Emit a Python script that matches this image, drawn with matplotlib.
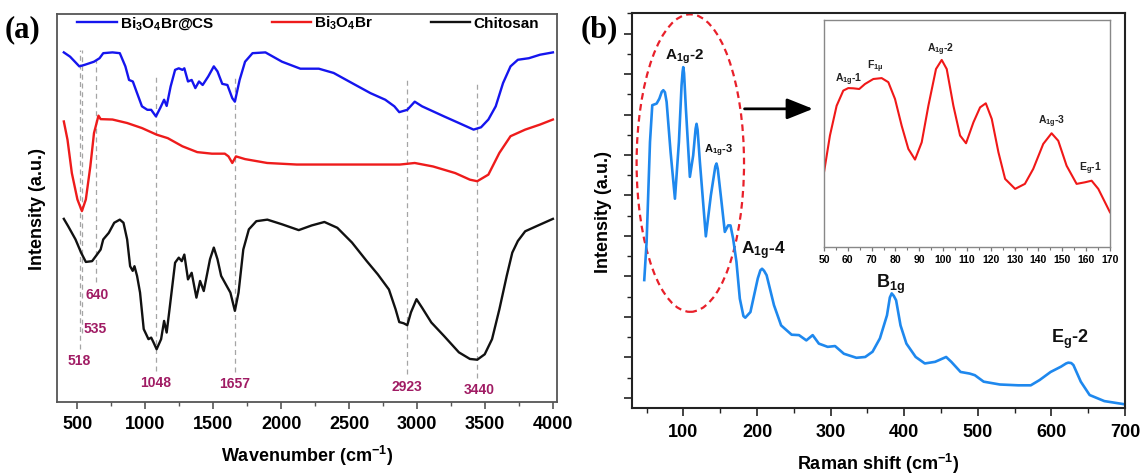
import numpy as np
import matplotlib
matplotlib.use("Agg")
import matplotlib.pyplot as plt
from matplotlib.patches import Ellipse
from matplotlib.ticker import MultipleLocator

plt.rcParams['font.family'] = ['Liberation Sans', 'DejaVu Sans']
plt.rcParams['font.weight'] = 'bold'
plt.rcParams['axes.labelweight'] = 'bold'
plt.rcParams['mathtext.fontset'] = 'custom'
plt.rcParams['mathtext.rm'] = 'Liberation Sans:bold'
plt.rcParams['mathtext.bf'] = 'Liberation Sans:bold'
plt.rcParams['mathtext.it'] = 'Liberation Sans:bold'

# ---------------- (a) FTIR spectra (offset, arbitrary units) ----------------
cs_x = [400, 446, 514, 554, 622, 663, 690, 758, 812, 853, 880, 908, 935, 975, 1015,
        1043, 1078, 1110, 1138, 1157, 1186, 1219, 1246, 1273, 1287, 1314, 1341, 1368,
        1395, 1422, 1463, 1504, 1531, 1566, 1604, 1640, 1659, 1694, 1734, 1789, 1884,
        2006, 2141, 2277, 2386, 2521, 2657, 2766, 2833, 2869, 2928, 2983, 3037, 3118,
        3199, 3308, 3416, 3471, 3525, 3579, 3633, 3688, 3742, 3823, 3905, 4000]
cs_y = [90.1, 89.0, 86.5, 86.9, 87.7, 88.6, 89.9, 90.1, 89.9, 86.5, 83.0, 82.6, 80.0,
        76.2, 75.3, 75.3, 73.6, 75.8, 77.9, 76.3, 81.3, 85.6, 86.0, 85.6, 86.0, 82.6,
        83.0, 80.9, 82.6, 81.7, 83.9, 86.5, 85.2, 82.0, 81.7, 78.3, 77.4, 83.0, 87.7,
        89.9, 90.1, 87.7, 85.9, 85.9, 84.8, 82.2, 79.6, 77.9, 76.2, 74.7, 75.3, 77.4,
        76.2, 74.9, 73.6, 71.9, 70.2, 70.8, 72.8, 76.2, 82.2, 86.5, 88.2, 88.6, 89.5, 90.1]

bob_x = [400, 427, 459, 500, 533, 562, 595, 622, 655, 671, 758, 866, 975, 1083, 1165,
         1273, 1382, 1490, 1585, 1612, 1640, 1667, 1734, 1897, 2114, 2657, 2874, 2983,
         3118, 3281, 3389, 3443, 3525, 3606, 3688, 3796, 3905, 4000]
bob_y = [72.3, 67.6, 59.0, 52.2, 49.2, 52.2, 60.7, 69.3, 73.8, 72.9, 72.8, 71.9, 70.6,
         68.9, 68.0, 65.9, 64.4, 64.0, 64.0, 63.3, 61.6, 63.3, 62.6, 61.6, 61.2, 61.2,
         61.2, 61.6, 60.7, 59.0, 57.3, 56.9, 58.6, 64.2, 68.5, 70.2, 71.5, 72.8]

chi_x = [400, 432, 486, 527, 562, 608, 644, 671, 690, 731, 771, 812, 839, 866, 888, 907,
         920, 939, 961, 988, 1023, 1043, 1061, 1083, 1116, 1138, 1157, 1178, 1219, 1246,
         1268, 1287, 1314, 1341, 1376, 1403, 1430, 1476, 1504, 1531, 1558, 1599, 1626,
         1659, 1686, 1721, 1762, 1817, 1898, 2006, 2129, 2224, 2318, 2413, 2521, 2630,
         2711, 2793, 2842, 2869, 2901, 2928, 2955, 2996, 3037, 3105, 3199, 3308, 3389,
         3443, 3498, 3552, 3606, 3660, 3701, 3742, 3796, 3878, 4000]
chi_y = [47.2, 45.3, 41.9, 38.5, 36.1, 36.3, 38.0, 39.3, 41.9, 43.6, 46.2, 47.0, 46.2,
         41.9, 35.0, 33.8, 35.0, 32.5, 28.2, 18.8, 16.2, 16.6, 15.3, 13.6, 16.2, 20.9,
         17.9, 23.9, 35.9, 37.2, 36.3, 38.0, 31.6, 33.3, 26.9, 31.2, 28.6, 36.8, 39.8,
         36.8, 32.5, 29.9, 28.2, 23.5, 28.2, 39.3, 44.5, 46.6, 47.0, 45.8, 44.3, 45.5,
         46.4, 44.9, 41.1, 36.3, 32.9, 29.0, 23.9, 20.6, 20.3, 19.8, 23.1, 26.5, 24.3,
         20.5, 17.0, 12.8, 11.1, 10.9, 12.3, 16.2, 23.9, 32.5, 38.5, 41.5, 44.0, 45.3, 47.2]

series_names = [r'Bi$_3$O$_4$Br@CS', r'Bi$_3$O$_4$Br', 'Chitosan']

# guide lines and their labels
peak_pos = [518, 535, 640, 1078, 1657, 2923, 3440]
peak_top = [90.7, 90.7, 88.2, 84.3, 84.3, 83.3, 82.2]
peak_bot = [13.6, 17.9, 31.0, 8.0, 7.8, 7.2, 6.3]
peak_text = ['518', '535', '640', '1048', '1657', '2923', '3440']
peak_tx = [514, 545, 646, 1078, 1658, 2928, 3457]
peak_ty = [10.9, 19.2, 27.8, 5.2, 4.8, 4.2, 3.3]
peak_ha = ['center', 'left', 'center', 'center', 'center', 'center', 'center']

# ---------------- (b) Raman spectrum ----------------
raman_x = [46.7, 49.9, 54.5, 57.6, 63.5, 67.2, 70.5, 72.6, 74.8, 77.1, 82.5, 88.4, 93.8,
           97.4, 98.8, 99.7, 100.8, 103.3, 108.7, 113.2, 116.5, 117.8, 119.2, 122.3,
           130.4, 137.2, 143.3, 144.9, 146.6, 151.7, 156.2, 160.7, 163.9, 167.5, 172.0,
           176.6, 181.5, 184, 191, 201, 204.5, 206.8, 209.5, 213, 223, 232.7, 247, 257,
           267, 275.6, 284, 296, 306, 318, 335, 347, 357, 367, 376.6, 380.5, 383, 385.8,
           389, 395, 403, 415.6, 428, 442, 457, 464, 476.6, 489, 496, 508, 530, 555, 572,
           584, 599, 613, 620, 623, 627, 630, 640, 652, 672, 700]
raman_y = [2.91, 3.85, 6.32, 7.23, 7.27, 7.39, 7.56, 7.60, 7.55, 7.31, 6.07, 4.92, 6.32,
           7.72, 8.05, 8.17, 8.02, 7.14, 5.46, 5.99, 6.65, 6.77, 6.62, 5.83, 3.99, 5.00,
           5.72, 5.79, 5.66, 4.84, 4.10, 4.26, 4.26, 3.93, 3.36, 2.45, 2.02, 1.98, 2.12,
           2.95, 3.15, 3.19, 3.14, 3.03, 2.29, 1.79, 1.56, 1.55, 1.42, 1.55, 1.34, 1.26,
           1.28, 1.09, 0.99, 1.01, 1.14, 1.47, 2.04, 2.48, 2.58, 2.52, 2.41, 1.79, 1.34,
           1.01, 0.85, 0.89, 1.01, 0.89, 0.64, 0.60, 0.56, 0.40, 0.33, 0.31, 0.31, 0.44,
           0.64, 0.77, 0.85, 0.87, 0.86, 0.81, 0.40, 0.07, -0.08, -0.16]

raman_text = [r'A$_{1g}$-2', r'A$_{1g}$-3', r'A$_{1g}$-4', r'B$_{1g}$', r'E$_g$-2']
raman_tx = [102, 147.3, 208.4, 381.5, 625]
raman_ty = [8.46, 6.12, 3.67, 2.82, 1.47]
raman_fs = [11, 8, 12.5, 13, 13]

# inset: zoom on 50-170 cm-1 (normalised intensity)
inset_x = [50, 52.5, 55.3, 58.1, 60.2, 62.3, 64.8, 67.2, 70.7, 74.2, 77.0, 79.8, 82.6,
           85.4, 88.2, 91.0, 93.8, 97.0, 99.4, 101.5, 104.3, 107.1, 109.6, 112.7, 115.5,
           117.9, 120.4, 123.2, 126.0, 130.2, 134.3, 137.8, 142.0, 145.5, 148.3, 151.8,
           156.0, 159.5, 162.3, 165.1, 170]
inset_y = [0.329, 0.491, 0.622, 0.689, 0.700, 0.699, 0.696, 0.718, 0.740, 0.744, 0.726,
           0.652, 0.534, 0.432, 0.385, 0.461, 0.622, 0.784, 0.824, 0.784, 0.622, 0.491,
           0.457, 0.549, 0.615, 0.633, 0.564, 0.417, 0.300, 0.256, 0.278, 0.344, 0.454,
           0.501, 0.468, 0.358, 0.278, 0.285, 0.292, 0.256, 0.153]

inset_text = [r'A$_{1g}$-1', r'F$_{1μ}$', r'A$_{1g}$-2', r'A$_{1g}$-3', r'E$_g$-1']
inset_tx = [60.2, 71.7, 99, 145.5, 161.6]
inset_ty = [0.743, 0.799, 0.875, 0.556, 0.347]

# ---------------- figure ----------------
fig = plt.figure(figsize=(11.43, 4.77), dpi=100)
ax_a = fig.add_axes([0.0499, 0.1551, 0.4374, 0.8135])
ax_b = fig.add_axes([0.5529, 0.1426, 0.4313, 0.8274])
ax_in = fig.add_axes([0.7209, 0.4801, 0.2502, 0.4759])

# panel (a)
ax_a.plot(cs_x, cs_y, color='#1515ee', lw=1.7, label=series_names[0])
ax_a.plot(bob_x, bob_y, color='#ee1b1b', lw=1.7, label=series_names[1])
ax_a.plot(chi_x, chi_y, color='#111111', lw=1.7, label=series_names[2])
for x, t, b in zip(peak_pos, peak_top, peak_bot):
    ax_a.plot([x, x], [b, t], ls=(0, (4, 3)), color='#a5a5a5', lw=0.9, zorder=0)
for s, x, y, ha in zip(peak_text, peak_tx, peak_ty, peak_ha):
    ax_a.text(x, y, s, color='#a01c64', fontsize=10, ha=ha, va='center')

ax_a.set_xlim(350, 4030)
ax_a.set_ylim(0, 100)
ax_a.set_yticks([])
ax_a.xaxis.set_major_locator(MultipleLocator(500))
ax_a.xaxis.set_minor_locator(MultipleLocator(250))
ax_a.tick_params(axis='x', which='major', direction='out', length=5, width=1.2,
                 labelsize=13, pad=4, color='#555555')
ax_a.tick_params(axis='x', which='minor', direction='out', length=3, width=1.0,
                 color='#555555')
for sp in ax_a.spines.values():
    sp.set_color('#555555')
    sp.set_linewidth(1.3)
ax_a.set_xlabel('Wavenumber (cm$^{-1}$)', fontsize=13, labelpad=8)
ax_a.set_ylabel('Intensity (a.u.)', fontsize=13)
ax_a.yaxis.set_label_coords(-0.022, 0.5)
ax_a.legend(loc='center', bbox_to_anchor=(0.04, 0.955, 0.924, 0.045), mode='expand',
            ncol=3, frameon=False, fontsize=11, handlelength=2.6, handletextpad=0.2,
            borderaxespad=0, borderpad=0)

# panel (b)
ax_b.plot(raman_x, raman_y, color='#1e88ee', lw=1.9)
ax_b.add_patch(Ellipse((109.3, 5.8), 146, 7.35, fill=False, ls=(0, (3, 2)),
                       ec='#e8202a', lw=1.6))
ax_b.annotate('', xy=(276, 7.14), xytext=(183, 7.14),
              arrowprops=dict(arrowstyle='-|>,head_length=1.0,head_width=0.4',
                              color='black', lw=2, mutation_scale=16,
                              shrinkA=0, shrinkB=0))
for s, x, y, fs in zip(raman_text, raman_tx, raman_ty, raman_fs):
    ax_b.text(x, y, s, fontsize=fs, ha='center', va='center', color='#111111')

ax_b.set_xlim(30, 700)
ax_b.set_ylim(-0.25, 9.5)
ax_b.xaxis.set_major_locator(MultipleLocator(100))
ax_b.xaxis.set_minor_locator(MultipleLocator(50))
ax_b.yaxis.set_major_locator(MultipleLocator(1))
ax_b.yaxis.set_minor_locator(MultipleLocator(0.5))
ax_b.tick_params(axis='y', which='both', labelleft=False)
ax_b.tick_params(which='major', direction='out', length=6, width=1.2, labelsize=13, pad=5,
                 color='#222222')
ax_b.tick_params(which='minor', direction='out', length=3.5, width=1.0, color='#222222')
for sp in ax_b.spines.values():
    sp.set_color('#222222')
    sp.set_linewidth(1.5)
ax_b.set_xlabel('Raman shift (cm$^{-1}$)', fontsize=13, labelpad=8)
ax_b.set_ylabel('Intensity (a.u.)', fontsize=13)
ax_b.yaxis.set_label_coords(-0.04, 0.5)

# inset
ax_in.plot(inset_x, inset_y, color='#f01818', lw=1.5)
for s, x, y in zip(inset_text, inset_tx, inset_ty):
    ax_in.text(x, y, s, fontsize=7.5, ha='center', va='center', color='#222222')
ax_in.set_xlim(50, 170)
ax_in.set_ylim(0, 1)
ax_in.set_yticks([])
ax_in.xaxis.set_major_locator(MultipleLocator(10))
ax_in.xaxis.set_minor_locator(MultipleLocator(5))
ax_in.tick_params(axis='x', which='major', direction='out', length=3, width=0.9,
                  labelsize=7.5, pad=2, color='#777777')
ax_in.tick_params(axis='x', which='minor', direction='out', length=1.8, width=0.8,
                  color='#777777')
for sp in ax_in.spines.values():
    sp.set_color('#888888')
    sp.set_linewidth(1.0)

fig.text(0.004, 0.937, '(a)', family='Liberation Serif', fontweight='bold', fontsize=22,
         va='center')
fig.text(0.508, 0.937, '(b)', family='Liberation Serif', fontweight='bold', fontsize=22,
         va='center')

fig.savefig('out.png', dpi=100)
